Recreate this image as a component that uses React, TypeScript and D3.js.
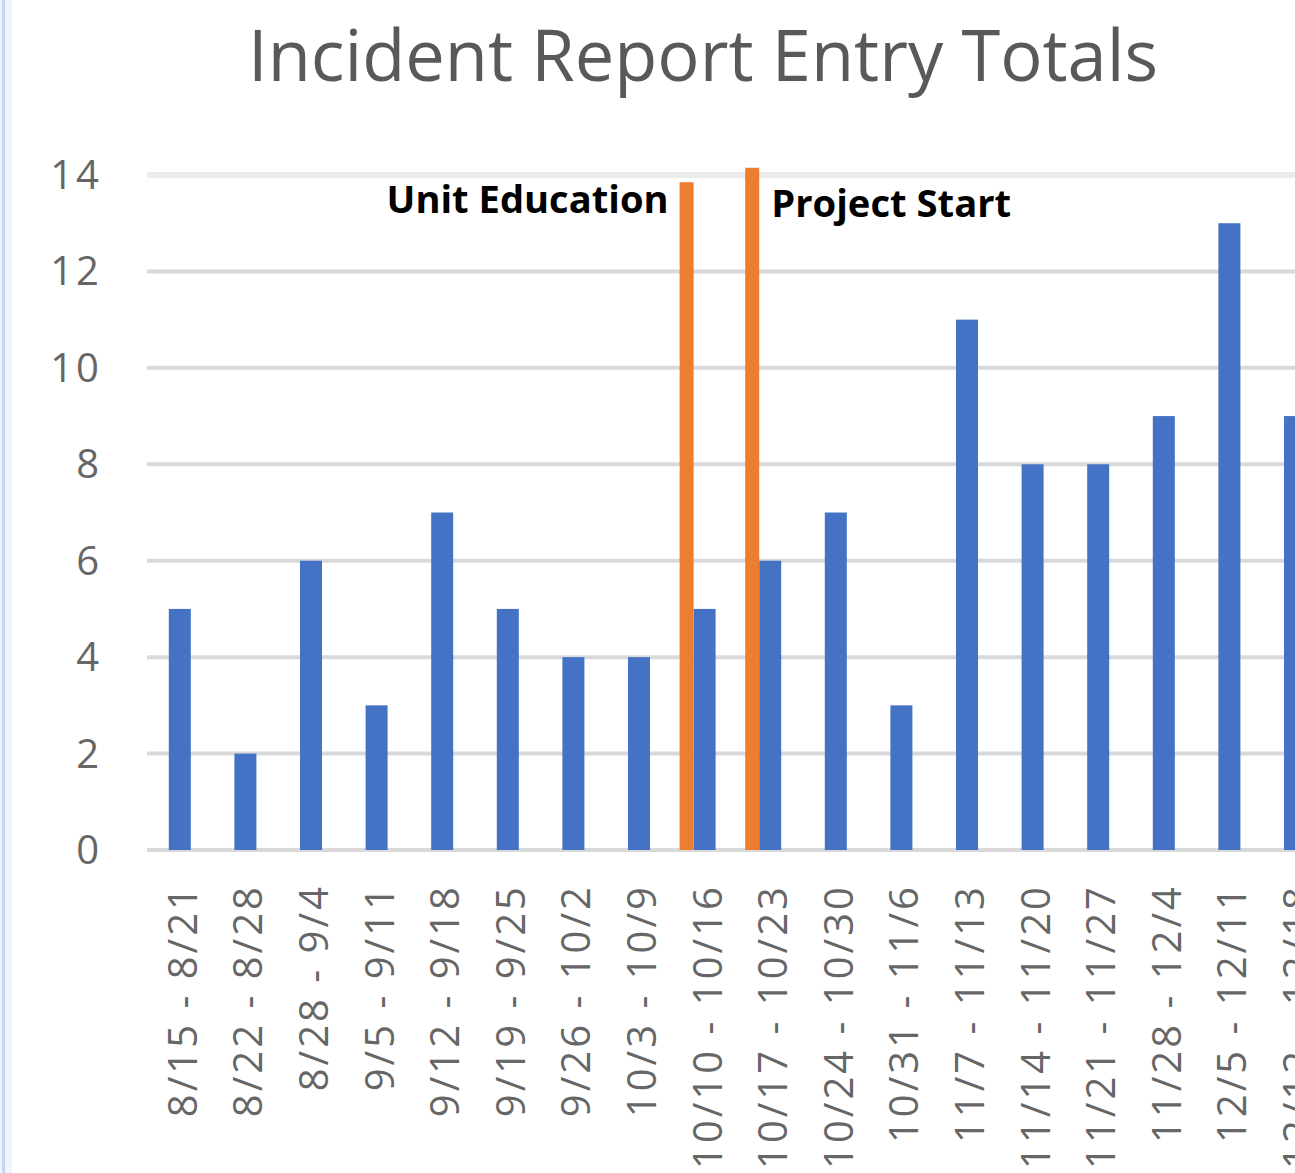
import React, { useEffect, useRef } from 'react';
import * as d3 from 'd3';

// weekly ranges on the x axis
const weeks = [
    "8/15 - 8/21", "8/22 - 8/28", "8/28 - 9/4", "9/5 - 9/11", "9/12 - 9/18",
    "9/19 - 9/25", "9/26 - 10/2", "10/3 - 10/9", "10/10 - 10/16", "10/17 - 10/23",
    "10/24 - 10/30", "10/31 - 11/6", "11/7 - 11/13", "11/14 - 11/20", "11/21 - 11/27",
    "11/28 - 12/4", "12/5 - 12/11", "12/12 - 12/18"
];
// incident report entries per week
const totals = [5, 2, 6, 3, 7, 5, 4, 4, 5, 6, 7, 3, 11, 8, 8, 9, 13, 9];

// orange marker bars (second series)
const markerWeeks = ["10/10 - 10/16", "10/17 - 10/23"];
const markerValues = [13.85, 14.15];
const markerLabels = ["Unit Education", "Project Start"];

const yTicks = [0, 2, 4, 6, 8, 10, 12, 14];
const title = "Incident Report Entry Totals";

export default function App() {
    const ref = useRef<SVGSVGElement>(null);

    useEffect(() => {
        const width = 1295, height = 1173;
        const margin = { top: 175, left: 147, bottom: 323 };
        const step = 65.6;

        const x = d3.scaleBand<string>()
            .domain(weeks)
            .range([margin.left, margin.left + step * weeks.length])
            .paddingInner(0).paddingOuter(0);
        const y = d3.scaleLinear()
            .domain([0, 14])
            .range([height - margin.bottom, margin.top]);

        const svg = d3.select(ref.current);
        svg.selectAll("*").remove();
        svg.attr("width", width).attr("height", height);

        svg.append("rect").attr("width", width).attr("height", height).attr("fill", "#fff");

        // left panel edge
        svg.append("rect").attr("x", 0).attr("y", 0).attr("width", 12).attr("height", height).attr("fill", "#eef3fc");
        svg.append("rect").attr("x", 2).attr("y", 0).attr("width", 3).attr("height", height).attr("fill", "#c6d6f0");

        const font = "'Open Sans', 'Liberation Sans', sans-serif";

        // title
        svg.append("text")
            .attr("x", 703).attr("y", 81)
            .attr("text-anchor", "middle")
            .attr("font-family", font)
            .attr("font-size", 72)
            .attr("fill", "#595959")
            .attr("textLength", 910)
            .attr("lengthAdjust", "spacingAndGlyphs")
            .text(title);

        // gridlines
        svg.append("g")
            .selectAll("line")
            .data(yTicks)
            .join("line")
            .attr("x1", margin.left).attr("x2", width)
            .attr("y1", d => y(d)).attr("y2", d => y(d))
            .attr("stroke", d => d === 14 ? "#ececec" : "#d9d9d9")
            .attr("stroke-width", d => d === 14 ? 6 : 4);

        // y tick labels
        svg.append("g")
            .selectAll("text")
            .data(yTicks)
            .join("text")
            .attr("x", 102).attr("y", d => y(d))
            .attr("dy", "0.35em")
            .attr("text-anchor", "end")
            .attr("font-family", font)
            .attr("font-size", 40)
            .attr("letter-spacing", 3)
            .attr("fill", "#666")
            .text(d => d);

        const barW = 22;
        // blue bars
        svg.append("g")
            .selectAll("rect")
            .data(totals)
            .join("rect")
            .attr("x", (d, i) => x(weeks[i])! + x.bandwidth() / 2 - barW / 2)
            .attr("y", d => y(d))
            .attr("width", barW)
            .attr("height", d => y(0) - y(d))
            .attr("fill", "#4472c4");

        // orange markers, sitting just left of the blue bar
        const mW = 14;
        svg.append("g")
            .selectAll("rect")
            .data(markerValues)
            .join("rect")
            .attr("x", (d, i) => x(markerWeeks[i])! + x.bandwidth() / 2 - barW / 2 - mW)
            .attr("y", d => y(d))
            .attr("width", mW)
            .attr("height", d => y(0) - y(d))
            .attr("fill", "#ed7d31");

        // marker labels
        const lbl = svg.append("g")
            .attr("font-family", font)
            .attr("font-weight", "bold")
            .attr("font-size", 38)
            .attr("fill", "#000");
        lbl.append("text")
            .attr("x", x(markerWeeks[0])! + x.bandwidth() / 2 - barW / 2 - mW - 11)
            .attr("y", 213)
            .attr("text-anchor", "end")
            .attr("textLength", 282)
            .attr("lengthAdjust", "spacingAndGlyphs")
            .text(markerLabels[0]);
        lbl.append("text")
            .attr("x", x(markerWeeks[1])! + x.bandwidth() / 2 - barW / 2 + 12)
            .attr("y", 217)
            .attr("textLength", 240)
            .attr("lengthAdjust", "spacingAndGlyphs")
            .text(markerLabels[1]);

        // rotated category labels
        svg.append("g")
            .selectAll("text")
            .data(weeks)
            .join("text")
            .attr("transform", d => `translate(${x(d)! + x.bandwidth() / 2 + 3},884) rotate(-90)`)
            .attr("dy", "0.35em")
            .attr("text-anchor", "end")
            .attr("font-family", font)
            .attr("font-size", 40)
            .attr("letter-spacing", 3)
            .attr("fill", "#666")
            .text(d => d);
    }, []);

    return (
        <svg ref={ref} style={{ position: 'absolute', left: 0, top: 0, display: 'block' }} />
    );
}
